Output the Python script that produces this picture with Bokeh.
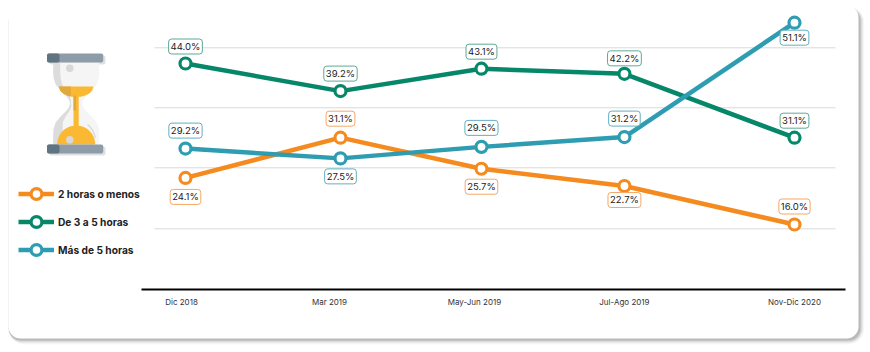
import numpy as np
from bokeh.plotting import figure
from bokeh.models import Range1d, FixedTicker, Legend, LegendItem, ColumnDataSource
from bokeh.core.properties import value
from bokeh.embed import file_html
from bokeh.resources import INLINE

# ---- data ----
periods = ["Dic 2018", "Mar 2019", "May-Jun 2019", "Jul-Ago 2019", "Nov-Dic 2020"]
hasta_2 = [24.1, 31.1, 25.7, 22.7, 16.0]
de_3_a_5 = [44.0, 39.2, 43.1, 42.2, 31.1]
mas_de_5 = [29.2, 27.5, 29.5, 31.2, 51.1]
series_names = ["2 horas o menos", "De 3 a 5 horas", "Más de 5 horas"]
grid_levels = [46.73, 36.3, 25.86, 15.25]

# ---- layout helpers (not data) ----
point_slots = [0.0, 1.018, 1.944, 2.883, 4.0]
tick_slots = [-0.026, 0.946, 1.898, 2.883, 4.0]
ORANGE, GREEN, TEAL = "#F58A1F", "#07876A", "#2E9CB1"
LIGHT = {ORANGE: "#F7A765", GREEN: "#5FA896", TEAL: "#62AFC0"}
TEXT_FONT = "Inter"

W, H = 870, 352
PX_PER_UNIT_X, PX_PER_UNIT_Y = 152.25, 5.75
x0 = (0 - 185) / PX_PER_UNIT_X
x1 = (W - 185) / PX_PER_UNIT_X
y_top = 44.0 + 63 / PX_PER_UNIT_Y
y_bot = 44.0 - (H - 63) / PX_PER_UNIT_Y
y_axis = 44.0 - (289 - 63) / PX_PER_UNIT_Y

p = figure(width=W, height=H, x_range=Range1d(x0, x1), y_range=Range1d(y_bot, y_top),
           output_backend="svg", toolbar_location=None, min_border=0,
           background_fill_color="white", border_fill_color="white", outline_line_color=None)
p.extra_x_ranges["px"] = Range1d(0, W)
p.extra_y_ranges["px"] = Range1d(H, 0)
PX = dict(x_range_name="px", y_range_name="px")

p.grid.visible = False
p.yaxis.visible = False

# ---- card with soft shadow (right and bottom) ----
for grow, alpha in [(4, 0.025), (3, 0.035), (2, 0.05), (1, 0.08), (0, 0.11)]:
    p.quad(left=[8.5 - grow / 4], right=[860 + grow], top=[8 - grow / 2], bottom=[340 + grow],
           fill_color="#000000", fill_alpha=alpha, line_color=None, border_radius=12 + grow, **PX)
p.quad(left=[8], right=[858], top=[5], bottom=[338], fill_color="white", line_color=None,
       border_radius=12, **PX)

# ---- gridlines ----
p.segment(x0=[(154 - 185) / PX_PER_UNIT_X] * 4, x1=[(835 - 185) / PX_PER_UNIT_X] * 4,
          y0=grid_levels, y1=grid_levels, line_color="#D9D9D9", line_width=1)

# ---- axis ----
ax = p.xaxis[0]
ax.fixed_location = y_axis
ax.bounds = ((141 - 185) / PX_PER_UNIT_X, (845 - 185) / PX_PER_UNIT_X)
ax.ticker = FixedTicker(ticks=tick_slots)
ax.major_label_overrides = dict(zip(tick_slots, periods))
ax.axis_line_color = "#000000"
ax.axis_line_width = 2
ax.major_tick_line_color = None
ax.minor_tick_line_color = None
ax.major_label_standoff = 1
ax.major_label_text_font = TEXT_FONT
ax.major_label_text_font_size = "8px"
ax.major_label_text_color = "#333333"

# ---- hourglass icon ----
def hg_poly(xs, ys, color, alpha=1.0):
    p.patch(xs, ys, fill_color=color, fill_alpha=alpha, line_color=None, **PX)

cx = 75.7
prof_y = [62, 72, 78, 84, 90, 96, 100, 103, 106, 110, 116, 122, 128, 134, 144]
prof_w = [23, 23, 22.5, 20.5, 15.5, 9.5, 6.8, 6.2, 6.8, 9.5, 15.5, 20.5, 22.5, 23, 23]
ys = np.array(prof_y, dtype=float)
hw = np.array(prof_w)
# drop shadow
p.quad(left=[49], right=[105], top=[55], bottom=[64], fill_color="#000000", fill_alpha=0.12,
       line_color=None, border_radius=2, **PX)
p.quad(left=[49], right=[105], top=[146], bottom=[155], fill_color="#000000", fill_alpha=0.12,
       line_color=None, border_radius=2, **PX)
hg_poly(list(cx - hw) + list((cx + hw)[::-1]), list(ys) + list(ys[::-1]), "#F5F5F5")
# left shade: strip along the left side of each bulb
shade_in = [7, 7, 7, 6.5, 5, 3, 1.5, 1, 2, 3, 5, 7, 9, 10, 12]
hg_poly(list(cx - hw) + list((cx - hw + np.array(shade_in))[::-1]), list(ys) + list(ys[::-1]), "#DCDCDC")
# top sand
sx = np.linspace(-1, 1, 30)
top_x = list(cx + 17.3 * sx)
top_y = [86] * 30
bot_x = list(cx + 17.3 * sx[::-1])
bot_y = list(86 + 10.5 * np.sqrt(1 - sx[::-1] ** 2))
hg_poly(top_x + bot_x, top_y + bot_y, "#FBB933")
keep = sx < -0.28
hg_poly(list((cx + 17.3 * sx)[keep]) + list((cx + 17.3 * sx)[keep][::-1]),
        [86] * int(keep.sum()) + list((86 + 10.5 * np.sqrt(1 - sx ** 2))[keep][::-1]), "#DFA93E")
# stream
p.quad(left=[73], right=[78.2], top=[95], bottom=[127], fill_color="#FBB933", line_color=None, **PX)
p.quad(left=[73], right=[75.5], top=[95], bottom=[110], fill_color="#DFA93E", line_color=None, **PX)
# bottom sand
a = np.linspace(np.pi, 0, 40)
hg_poly(list(cx + 19 * np.cos(a)), list(144 - 19 * np.sin(a)), "#FBB933")
# highlight and dots
arc = np.linspace(0.2, 0.95, 12)
p.line(list(cx + 19.5 * np.cos(arc)), list(142 - 22 * np.sin(arc)),
       line_color="#DCDCDC", line_width=1.5, **PX)
p.ellipse(x=[69.3, 69.3], y=[67.7, 139.3], width=7.5, height=7.5, width_units="screen",
          height_units="screen", fill_color="#D8D8D8", line_color=None, **PX)
# caps
for top_edge in (53, 144):
    p.quad(left=[46.5], right=[102.7], top=[top_edge], bottom=[top_edge + 9], fill_color="#8D9CA8",
           line_color=None, border_radius=2, **PX)
    p.quad(left=[46.5], right=[59], top=[top_edge], bottom=[top_edge + 9], fill_color="#5F7480",
           line_color=None, border_radius=2, **PX)

# ---- series ----
label_offsets = {
    ORANGE: [19, -19, 18, 14, -18],
    GREEN: [-17, -17.5, -17, -15.5, -17],
    TEAL: [-18, 18, -19, -18.5, 15],
}
items = []
for name, vals, col in zip(series_names, [hasta_2, de_3_a_5, mas_de_5], [ORANGE, GREEN, TEAL]):
    src = ColumnDataSource(dict(
        x=point_slots, y=vals,
        label=[f"{v:.1f}%" for v in vals],
        off=label_offsets[col],
    ))
    ln = p.line("x", "y", source=src, line_color=col, line_width=4.5)
    mk = p.scatter("x", "y", source=src, marker="circle", size=11, fill_color="white",
                   line_color=col, line_width=3.2)
    p.text("x", "y", text="label", source=src, y_offset="off", text_align="center",
           text_baseline="middle", text_font=value(TEXT_FONT), text_font_size="9.5px",
           text_color="#222222", background_fill_color="white", border_line_color=LIGHT[col],
           border_line_width=1, padding=2, border_radius=3)
    items.append(LegendItem(label=name, renderers=[ln, mk]))

leg = Legend(items=items, location=(18, 352 - 263), orientation="vertical", glyph_width=36,
             glyph_height=27, label_height=27, spacing=1, padding=0, margin=0, label_standoff=4,
             background_fill_alpha=0, border_line_color=None, label_text_font=TEXT_FONT,
             label_text_font_size="10.2px", label_text_font_style="bold", label_text_color="#222222")
p.add_layout(leg)

open("out.html", "w").write(file_html(p, INLINE))
